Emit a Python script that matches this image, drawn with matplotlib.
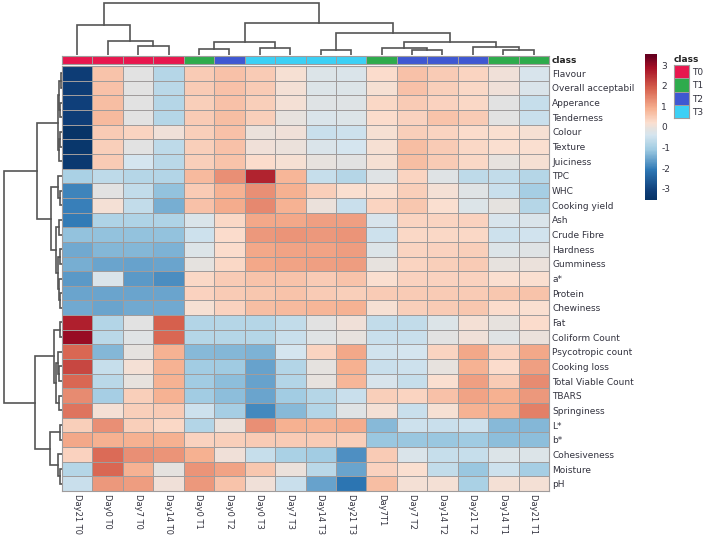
#!/usr/bin/env python3

import matplotlib
matplotlib.use('Agg')
import matplotlib.pyplot as plt
from matplotlib.colors import LinearSegmentedColormap, ListedColormap, Normalize
import numpy as np

# Figure size in pixels, all the axes below are placed in these
WIDTH = 709
HEIGHT = 538

row_labels = ['Flavour', 'Overall acceptabil', 'Apperance', 'Tenderness', 'Colour', 'Texture',
              'Juiciness', 'TPC', 'WHC', 'Cooking yield', 'Ash', 'Crude Fibre', 'Hardness',
              'Gumminess', 'a*', 'Protein', 'Chewiness', 'Fat', 'Coliform Count',
              'Psycotropic count', 'Cooking loss', 'Total Viable Count', 'TBARS', 'Springiness',
              'L*', 'b*', 'Cohesiveness', 'Moisture', 'pH']
col_labels = ['Day21 T0', 'Day0 T0', 'Day7 T0', 'Day14 T0', 'Day0 T1', 'Day0 T2', 'Day0 T3', 'Day7 T3',
              'Day14 T3', 'Day21 T3', 'Day7T1', 'Day7 T2', 'Day14 T2', 'Day21 T2', 'Day14 T1', 'Day21 T1']
col_class = ['T0', 'T0', 'T0', 'T0', 'T1', 'T2', 'T3', 'T3', 'T3', 'T3', 'T1', 'T2', 'T2', 'T2', 'T1', 'T1']
class_names = ['T0', 'T1', 'T2', 'T3']
class_colors = ['#E8174E', '#2EAB4C', '#3F58D2', '#3CD0F5']

# Scaled values, one list per row of the heatmap
flavour = [-3.1, .7, -.05, -.7, .6, .75, .6, .25, -.15, -.2, .35, .75, .6, .45, .15, -.25]
overall = [-3.1, .75, -.05, -.65, .6, .75, .6, .2, -.15, -.15, .25, .75, .55, .4, .15, -.2]
apperance = [-3.0, .8, -.05, -.7, .55, .75, .55, .2, -.1, -.1, .4, .6, .5, .4, -.05, -.5]
tenderness = [-3.05, .85, -.05, -.7, .6, .8, .55, .05, -.2, -.15, .35, .5, .7, .6, -.05, -.45]
colour = [-3.4, .6, .45, .15, .55, .75, .1, .15, -.45, -.4, .25, .55, .45, .35, .3, .25]
texture = [-3.3, .55, -.05, -.6, .55, .75, .15, .1, -.2, -.3, .25, .8, .6, .4, .3, .3]
juiciness = [-3.2, .6, -.3, -.65, .55, .7, .35, .25, .05, -.05, .25, .8, .6, .4, .05, .25]
tpc = [-.85, -.6, -.7, -.75, .85, 1.4, 2.75, .9, -.5, -.7, -.1, .45, -.1, -.6, -.55, -.7]
whc = [-1.85, -.05, -.55, -1.1, .6, .95, 1.4, 1.0, .55, .3, .3, .55, .2, -.1, -.45, -.9]
cooking_yield = [-1.9, .2, -.55, -1.35, .75, 1.05, 1.5, .95, .1, -.45, .45, .65, .3, -.15, .0, -.7]
ash = [-1.95, -.8, -.8, -.8, -.2, .4, 1.1, 1.1, 1.2, 1.2, -.25, .45, .45, .5, -.25, -.2]
crude_fibre = [-1.1, -1.1, -1.1, -1.1, -.4, .35, 1.3, 1.35, 1.3, 1.35, -.4, .4, .4, .4, -.4, -.35]
hardness = [-1.4, -1.25, -1.25, -1.3, -.15, .35, 1.1, 1.15, 1.15, 1.25, -.15, .45, .5, .55, -.15, -.1]
gumminess = [-1.35, -1.45, -1.5, -1.45, 0, .4, 1.1, 1.15, 1.2, 1.25, .05, .45, .55, .6, .05, .1]
a_star = [-1.6, -.2, -1.6, -1.75, .4, .6, .7, .7, .6, .7, .3, .5, .5, .5, .3, .3]
protein = [-1.45, -1.45, -1.45, -1.45, .5, .6, .65, .7, .6, .55, .6, .6, .6, .6, .65, .7]
chewiness = [-1.4, -1.45, -1.4, -1.4, .25, .5, .8, .85, .9, .95, .25, .55, .6, .65, .35, .3]
fat = [2.8, -.75, -.05, 2.0, -.75, -.7, -.7, -.55, -.05, .15, -.55, -.55, -.15, .2, .05, .35]
coliform = [3.1, -.65, -.1, 1.9, -.7, -.7, -.7, -.45, -.1, .05, -.45, -.45, -.05, .15, -.1, .1]
psycotropic = [1.9, -1.25, .02, .95, -1.2, -1.25, -1.3, -.3, .45, 1.1, -.35, -.3, .45, 1.1, .5, 1.1]
cooking_loss = [2.3, -.5, .2, .95, -.95, -1.0, -1.5, -.75, .02, 1.0, -.45, -.4, .05, .95, .35, 1.2]
total_viable = [1.9, -.65, .05, .95, -.95, -1.15, -1.5, -.75, .03, .9, -.25, -.5, .3, 1.2, .6, 1.45]
tbars = [1.45, -.9, .55, .95, -.95, -1.15, -1.45, -.95, -.7, -.45, .55, .45, .75, 1.15, 1.0, 1.3]
springiness = [1.75, .2, .55, .6, -.4, -.9, -1.8, -1.2, -.75, -.1, .2, -.45, .25, .95, .95, 1.6]
l_star = [.55, 1.4, .55, .4, -.75, .1, 1.4, 1.0, .95, 1.05, -1.2, -.4, -.45, -.4, -1.2, -1.25]
b_star = [1.1, 1.0, 1.0, 1.0, .5, .55, .6, .6, .6, .55, -1.05, -1.05, -1.05, -1.0, -1.15, -1.15]
cohesiveness = [.5, 1.85, 1.4, 1.35, 1.0, .15, -.5, -.85, -.95, -1.7, .6, -.2, -.5, -.5, -.15, -.15]
moisture = [-.7, 1.9, .95, .0, 1.35, 1.15, .65, .1, -.65, -1.45, .5, .3, -.55, -1.05, -.4, -.9]
ph = [-.45, 1.3, 1.25, .15, 1.3, .7, .15, -.45, -1.5, -2.05, .8, .2, .2, -.85, .2, .2]

# Clustering trees, each merge is (left, right, height), a bare int is a leaf
col_tree = ((0, (1, (2, 3, 8.5), 14), 30),
            (((4, 5, 5.5), (6, 7, 7), 12.5),
             ((8, 9, 5),
              ((10, (11, 12, 5), 6.5), (13, (14, 15, 5), 7.5), 13),
              22), 32),
            52)
top_block = (((0, 1, 1), (2, 3, 1.5), 3), ((4, 5, 1.5), 6, 2.5), 4)
row_tree = ((top_block,
             ((7, (8, 9, 2), 4),
              ((10, 11, 3), ((12, 13, 2), (14, (15, 16, 1.5), 2.5), 4), 6),
              11),
             25),
            (((17, 18, 2), (((19, (20, 21, 2.5), 3.5)), (22, 23, 2.5), 6), 7.5),
             ((24, 25, 2), (26, (27, 28, 2), 4), 12),
             27),
            58.5)

# Colour scale, as (value, colour)
scale_stops = [(-3.56, '#053061'), (-3.0, '#0F3F7A'), (-2.0, '#2E78B5'), (-1.0, '#9FCBE2'), (-.3, '#D5E5EF'),
               (0.0, '#E4E2E0'), (.3, '#FBDFD0'), (1.0, '#F6B090'), (2.0, '#D6604D'), (3.0, '#A50F25'),
               (3.56, '#67001F')]


def pixel_axes(fig, left, top, right, bottom):
    # Add an axes given its edges in image pixels
    return fig.add_axes([left / WIDTH, 1 - bottom / HEIGHT, (right - left) / WIDTH, (bottom - top) / HEIGHT])


def tree_segments(node, segments):
    # Walk a merge tree, collecting the branches, returns the node position and height
    if isinstance(node, int):
        return node + 0.5, 0
    left_pos, left_height = tree_segments(node[0], segments)
    right_pos, right_height = tree_segments(node[1], segments)
    height = node[2]
    segments.append(([left_pos, left_pos, right_pos, right_pos], [left_height, height, height, right_height]))
    return (left_pos + right_pos) / 2, height


plt.rcParams['font.family'] = 'DejaVu Sans'
plt.rcParams['axes.unicode_minus'] = False

matrix = np.array([flavour, overall, apperance, tenderness, colour, texture, juiciness, tpc, whc,
                   cooking_yield, ash, crude_fibre, hardness, gumminess, a_star, protein, chewiness,
                   fat, coliform, psycotropic, cooking_loss, total_viable, tbars, springiness,
                   l_star, b_star, cohesiveness, moisture, ph])
n_rows, n_cols = matrix.shape

norm = Normalize(vmin=-3.56, vmax=3.56)
cmap = LinearSegmentedColormap.from_list('heat', [(float(norm(value)), color) for value, color in scale_stops])

fig = plt.figure(figsize=(WIDTH / 100, HEIGHT / 100), dpi=100)
TEXT_COLOR = '#33333F'
GRID_COLOR = '#A09C9C'
TREE_COLOR = '#555555'

# Main heatmap
ax = pixel_axes(fig, 62, 66, 549, 491)
mesh = ax.pcolormesh(matrix, cmap=cmap, norm=norm, edgecolors=GRID_COLOR, linewidth=0.7)
ax.set_xlim(0, n_cols)
ax.set_ylim(n_rows, 0)
ax.yaxis.tick_right()
ax.set_yticks(np.arange(n_rows) + 0.5, row_labels)
ax.set_xticks(np.arange(n_cols) + 0.5, col_labels, rotation=270)
ax.tick_params(axis='y', length=0, labelsize=6.5, pad=2.2, labelcolor=TEXT_COLOR)
ax.tick_params(axis='x', length=0, labelsize=6, pad=2, labelcolor=TEXT_COLOR)
for spine in ax.spines.values():
    spine.set_color(GRID_COLOR)

# Class annotation strip
strip = pixel_axes(fig, 62, 56, 549, 63.5)
class_cmap = ListedColormap(class_colors)
strip.pcolormesh([[class_names.index(name) for name in col_class]], cmap=class_cmap, vmin=0, vmax=3,
                 edgecolors=GRID_COLOR, linewidth=0.5)
strip.set_xticks([])
strip.yaxis.tick_right()
strip.set_yticks([0.5], ['class'], fontweight='bold')
strip.tick_params(length=0, labelsize=6.5, pad=2.2, labelcolor='#222222')
for spine in strip.spines.values():
    spine.set_color(GRID_COLOR)

# Column dendrogram
col_dendro = pixel_axes(fig, 62, 2, 549, 55)
col_segments = []
tree_segments(col_tree, col_segments)
for xs, ys in col_segments:
    col_dendro.plot(xs, ys, color=TREE_COLOR, linewidth=1.2, solid_joinstyle='miter')
col_dendro.set_xlim(0, n_cols)
col_dendro.set_ylim(0, 53)
col_dendro.axis('off')

# Row dendrogram
row_dendro = pixel_axes(fig, 2, 66, 62, 491)
row_segments = []
tree_segments(row_tree, row_segments)
for ys, xs in row_segments:
    row_dendro.plot(xs, ys, color=TREE_COLOR, linewidth=1.2, solid_joinstyle='miter')
row_dendro.set_xlim(60, 0)
row_dendro.set_ylim(n_rows, 0)
row_dendro.axis('off')

# Colour bar
cax = pixel_axes(fig, 645, 54, 657, 200)
bar = fig.colorbar(mesh, cax=cax, ticks=[-3, -2, -1, 0, 1, 2, 3])
bar.outline.set_visible(False)
bar.solids.set_edgecolor('face')
bar.ax.tick_params(length=0, labelsize=6.5, pad=3, labelcolor=TEXT_COLOR)

# Class legend, drawn as a small column of cells
swatches = pixel_axes(fig, 674, 65, 689, 118)
swatches.pcolormesh([[i] for i in range(len(class_names))], cmap=class_cmap, vmin=0, vmax=3,
                    edgecolors=GRID_COLOR, linewidth=0.5)
swatches.set_ylim(len(class_names), 0)
swatches.set_xticks([])
swatches.yaxis.tick_right()
swatches.set_yticks(np.arange(len(class_names)) + 0.5, class_names)
swatches.tick_params(length=0, labelsize=6.5, pad=2.2, labelcolor=TEXT_COLOR)
for spine in swatches.spines.values():
    spine.set_color(GRID_COLOR)
swatches.set_title('class', fontsize=6.5, fontweight='bold', color='#222222', loc='left', pad=2)

fig.savefig('out.png', dpi=100)
